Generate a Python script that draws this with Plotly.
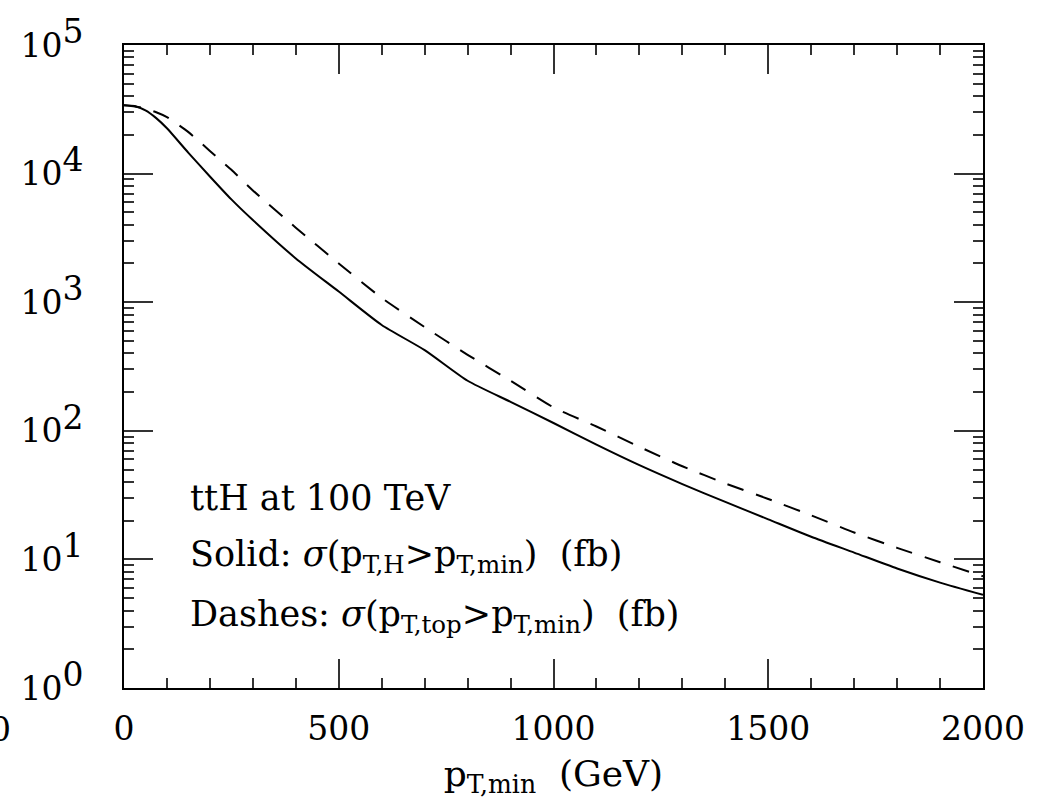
import math
import plotly.graph_objects as go

# Transverse-momentum threshold (GeV)
pt_min = [0, 25, 50, 75, 100, 150, 200, 250, 300, 400, 500, 600, 700, 800, 900,
          1000, 1100, 1200, 1300, 1400, 1500, 1600, 1700, 1800, 1900, 2000]

# sigma(pT,H > pT,min) in fb
sigma_higgs = [34000, 33500, 31000, 27000, 22500, 14500, 9500, 6300, 4350, 2190,
               1210, 665, 424, 245, 168, 115, 78, 54, 38.5, 28, 20.5, 15, 11.3,
               8.5, 6.6, 5.3]

# sigma(pT,top > pT,min) in fb
sigma_top = [34000, 33300, 32000, 30000, 27500, 21000, 15000, 10700, 7400, 3800,
             2000, 1080, 640, 390, 245, 152, 108, 75, 53, 39, 29.5, 22, 16.2,
             12.3, 9.5, 7.4]

x_ticks = [0, 500, 1000, 1500, 2000]
y_ticks = [1, 10, 100, 1000, 10000, 100000]
y_ticktext = ["10<sup><span style='font-size:33px'>%d</span></sup>" % k for k in range(6)]

# Caption lines inside the frame and their vertical positions (fb)
captions = ["ttH at 100 TeV",
            "Solid: <i>σ</i>(p<sub>T,H</sub>>p<sub>T,min</sub>)  (fb)",
            "Dashes: <i>σ</i>(p<sub>T,top</sub>>p<sub>T,min</sub>)  (fb)"]
caption_y = [30, 10.5, 3.6]

FONT = "DejaVu Serif"

fig = go.Figure()
fig.add_trace(go.Scatter(x=pt_min, y=sigma_higgs, mode="lines",
                         line=dict(color="black", width=2, shape="spline", smoothing=0.6),
                         showlegend=False))
fig.add_trace(go.Scatter(x=pt_min, y=sigma_top, mode="lines",
                         line=dict(color="black", width=2, dash="17px,13px",
                                   shape="spline", smoothing=0.6),
                         showlegend=False))

axis_common = dict(showline=True, linecolor="black", linewidth=2, mirror="allticks",
                   ticks="inside", ticklen=29, tickwidth=1.5, tickcolor="#333",
                   showgrid=False, zeroline=False,
                   tickfont=dict(family=FONT, size=33, color="black"))

fig.update_xaxes(range=[0, 2000], tickvals=x_ticks, ticklabelstandoff=10,
                 minor=dict(dtick=100, ticks="inside", ticklen=10, tickwidth=1.5,
                            tickcolor="#333", showgrid=False),
                 title=dict(text="p<sub>T,min</sub>  (GeV)", standoff=14,
                            font=dict(family=FONT, size=36, color="black")),
                 **axis_common)
fig.update_yaxes(type="log", range=[0, 5], tickvals=y_ticks, ticktext=y_ticktext,
                 ticklabelstandoff=32,
                 minor=dict(tickvals=[m * 10 ** k for k in range(5) for m in range(2, 10)],
                            ticks="inside", ticklen=10, tickwidth=1.5, tickcolor="#333",
                            showgrid=False),
                 **axis_common)

text_font = dict(family=FONT, size=35, color="black")
for label, yv in zip(captions, caption_y):
    fig.add_annotation(x=150, y=math.log10(yv), xref="x", yref="y", text=label,
                       showarrow=False, xanchor="left", yanchor="middle", font=text_font)

fig.add_annotation(x=-0.144, y=-0.065, xref="paper", yref="paper", text="0",
                   showarrow=False, xanchor="center", yanchor="middle",
                   font=dict(family=FONT, size=33, color="black"))

fig.update_layout(width=1037, height=803, margin=dict(l=124, r=51, t=40, b=115),
                  paper_bgcolor="white", plot_bgcolor="white")

fig.write_html("out.html")
